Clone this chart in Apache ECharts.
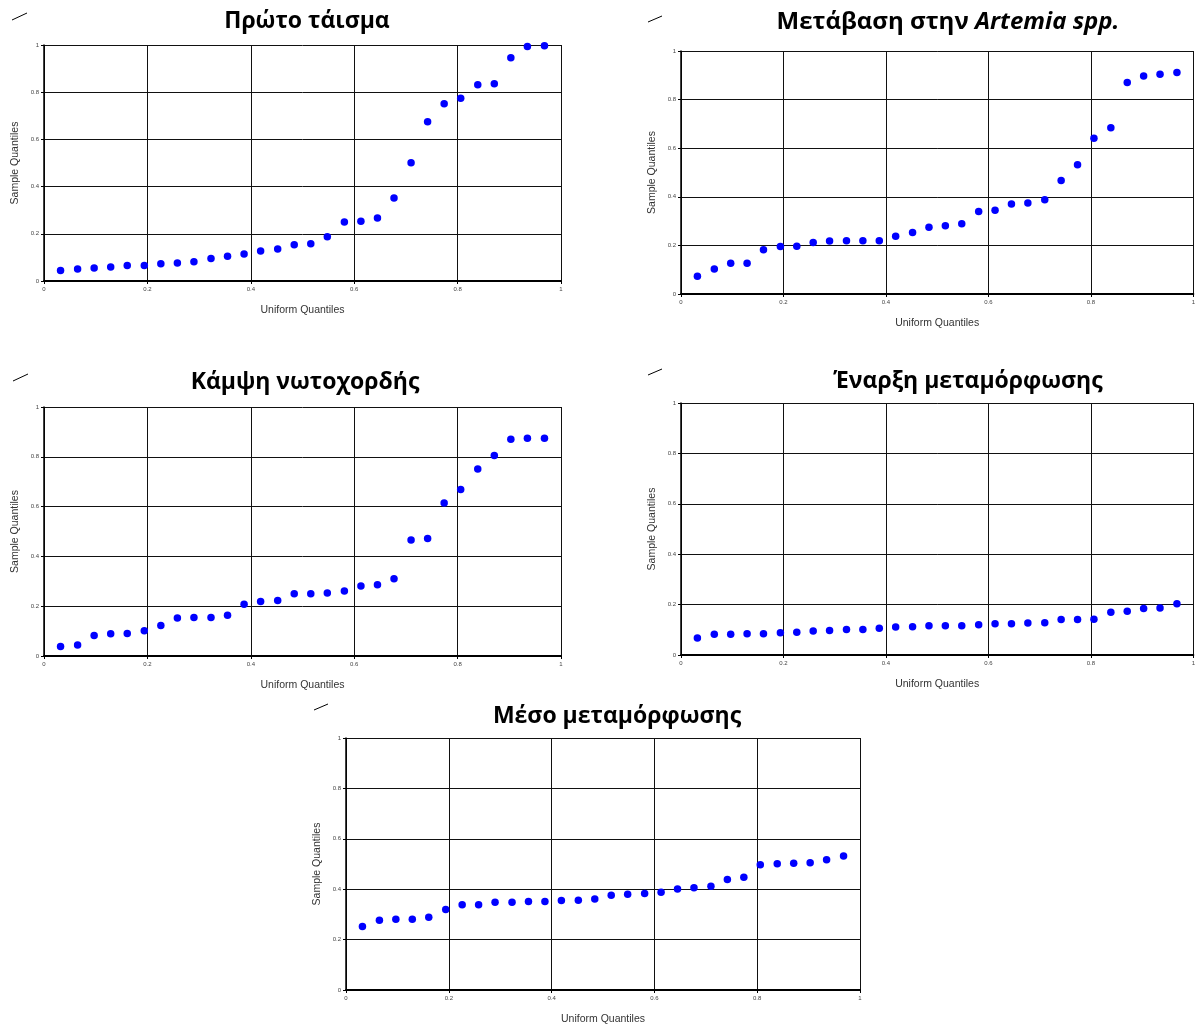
<!DOCTYPE html>
<html><head><meta charset="utf-8">
<script src="https://cdn.jsdelivr.net/npm/echarts@6/dist/echarts.min.js"></script>
<style>html,body{margin:0;padding:0;background:#fff}#c{width:1198px;height:1027px}</style>
</head><body><div id="c"></div>
<script>
// Uniform quantiles: i/31 for i = 1..30 (read from the point positions)
const uniformQuantiles = [0.032,0.065,0.097,0.129,0.161,0.194,0.226,0.258,0.290,0.323,0.355,0.387,0.419,0.452,0.484,0.516,0.548,0.581,0.613,0.645,0.677,0.710,0.742,0.774,0.806,0.839,0.871,0.903,0.935,0.968];

const titles = ["Πρώτο τάισμα", "Μετάβαση στην ", "Κάμψη νωτοχορδής", "Έναρξη μεταμόρφωσης", "Μέσο μεταμόρφωσης"];
const titleItalic = "Artemia spp.";

const firstFeeding = [0.045,0.051,0.055,0.059,0.066,0.066,0.073,0.076,0.082,0.095,0.105,0.114,0.127,0.136,0.154,0.158,0.188,0.250,0.253,0.267,0.352,0.501,0.675,0.751,0.774,0.832,0.836,0.946,0.994,0.997];
const artemiaTransition = [0.073,0.103,0.127,0.127,0.182,0.195,0.197,0.212,0.218,0.219,0.219,0.219,0.238,0.253,0.275,0.281,0.289,0.340,0.345,0.370,0.375,0.388,0.467,0.532,0.641,0.684,0.870,0.897,0.904,0.912];
const notochordFlexion = [0.038,0.044,0.082,0.089,0.090,0.101,0.122,0.153,0.155,0.155,0.164,0.208,0.219,0.223,0.250,0.250,0.253,0.261,0.281,0.286,0.310,0.466,0.472,0.614,0.669,0.751,0.805,0.870,0.874,0.875];
const metamorphosisStart = [0.067,0.082,0.082,0.084,0.084,0.088,0.090,0.095,0.097,0.101,0.101,0.106,0.111,0.112,0.116,0.116,0.116,0.120,0.124,0.124,0.127,0.128,0.141,0.141,0.142,0.170,0.174,0.185,0.187,0.203];
const metamorphosisMid = [0.252,0.277,0.281,0.281,0.289,0.319,0.338,0.338,0.348,0.348,0.351,0.351,0.355,0.356,0.361,0.376,0.380,0.383,0.388,0.401,0.406,0.412,0.438,0.447,0.497,0.501,0.503,0.505,0.517,0.532];

const xAxisName = "Uniform Quantiles";
const yAxisName = "Sample Quantiles";

const seriesData = [firstFeeding, artemiaTransition, notochordFlexion, metamorphosisStart, metamorphosisMid];

const grids = [
  {left: 44, top: 45, width: 517, height: 236},
  {left: 681, top: 51, width: 517, height: 243},
  {left: 44, top: 407, width: 517, height: 249},
  {left: 681, top: 403, width: 517, height: 252},
  {left: 346, top: 738, width: 514, height: 252}
];
const titlePos = [[307, 21], [948, 22], [305, 382], [968, 381], [617, 716]];
const titleSizes = [23, 24, 23, 23, 23];
const marks = [[12,20,27,13],[648,22,662,16],[13,381,28,374],[648,375,662,369],[314,710,328,704]];

const titleFont = "'Open Sans', 'Noto Sans', sans-serif";
const labelFont = "'Liberation Sans', Arial, sans-serif";

const xAxes = [], yAxes = [], series = [], graphic = [];
grids.forEach((g, i) => {
  xAxes.push({
    gridIndex: i, type: 'value', min: 0, max: 1, interval: 0.2,
    name: xAxisName, nameLocation: 'middle', nameGap: 24,
    nameTextStyle: {fontFamily: labelFont, fontSize: 10.5, color: '#333'},
    axisLine: {show: true, onZero: false, lineStyle: {color: '#000', width: 2}},
    axisTick: {show: true, length: 3, lineStyle: {color: '#000'}},
    axisLabel: {fontFamily: labelFont, fontSize: 6, color: '#444', margin: 5},
    splitLine: {show: true, lineStyle: {color: '#111', width: 1}}
  });
  yAxes.push({
    gridIndex: i, type: 'value', min: 0, max: 1, interval: 0.2,
    name: yAxisName, nameLocation: 'middle', nameGap: 23,
    nameTextStyle: {fontFamily: labelFont, fontSize: 10.5, color: '#333'},
    axisLine: {show: true, onZero: false, lineStyle: {color: '#000', width: 1.5}},
    axisTick: {show: true, length: 3, lineStyle: {color: '#000'}},
    axisLabel: {fontFamily: labelFont, fontSize: 6, color: '#444', margin: 5},
    splitLine: {show: true, lineStyle: {color: '#111', width: 1}}
  });
  series.push({
    type: 'scatter', xAxisIndex: i, yAxisIndex: i,
    symbol: 'circle', symbolSize: 7.5,
    itemStyle: {color: '#0000FF', opacity: 1},
    data: uniformQuantiles.map((x, k) => [x, seriesData[i][k]])
  });
  const m = marks[i];
  graphic.push({type: 'line', shape: {x1: m[0], y1: m[1], x2: m[2], y2: m[3]}, style: {stroke: '#000', lineWidth: 1}});
  const tp = titlePos[i];
  const fs = titleSizes[i];
  graphic.push({
    type: 'text', x: tp[0], y: tp[1],
    style: i === 1 ? {
      text: '{a|' + titles[i] + '}{b|' + titleItalic + '}',
      align: 'center', verticalAlign: 'middle',
      rich: {
        a: {fontFamily: titleFont, fontWeight: 'bold', fontSize: fs, fill: '#000'},
        b: {fontFamily: titleFont, fontWeight: 'bold', fontStyle: 'italic', fontSize: fs, fill: '#000'}
      }
    } : {
      text: titles[i], align: 'center', verticalAlign: 'middle',
      fontFamily: titleFont, fontWeight: 'bold', fontSize: fs, fill: '#000'
    }
  });
});

const chart = echarts.init(document.getElementById('c'), null, {renderer: 'canvas'});
chart.setOption({
  animation: false,
  backgroundColor: '#fff',
  grid: grids.map(g => Object.assign({containLabel: false}, g)),
  xAxis: xAxes, yAxis: yAxes, series: series, graphic: graphic
});
</script></body></html>
